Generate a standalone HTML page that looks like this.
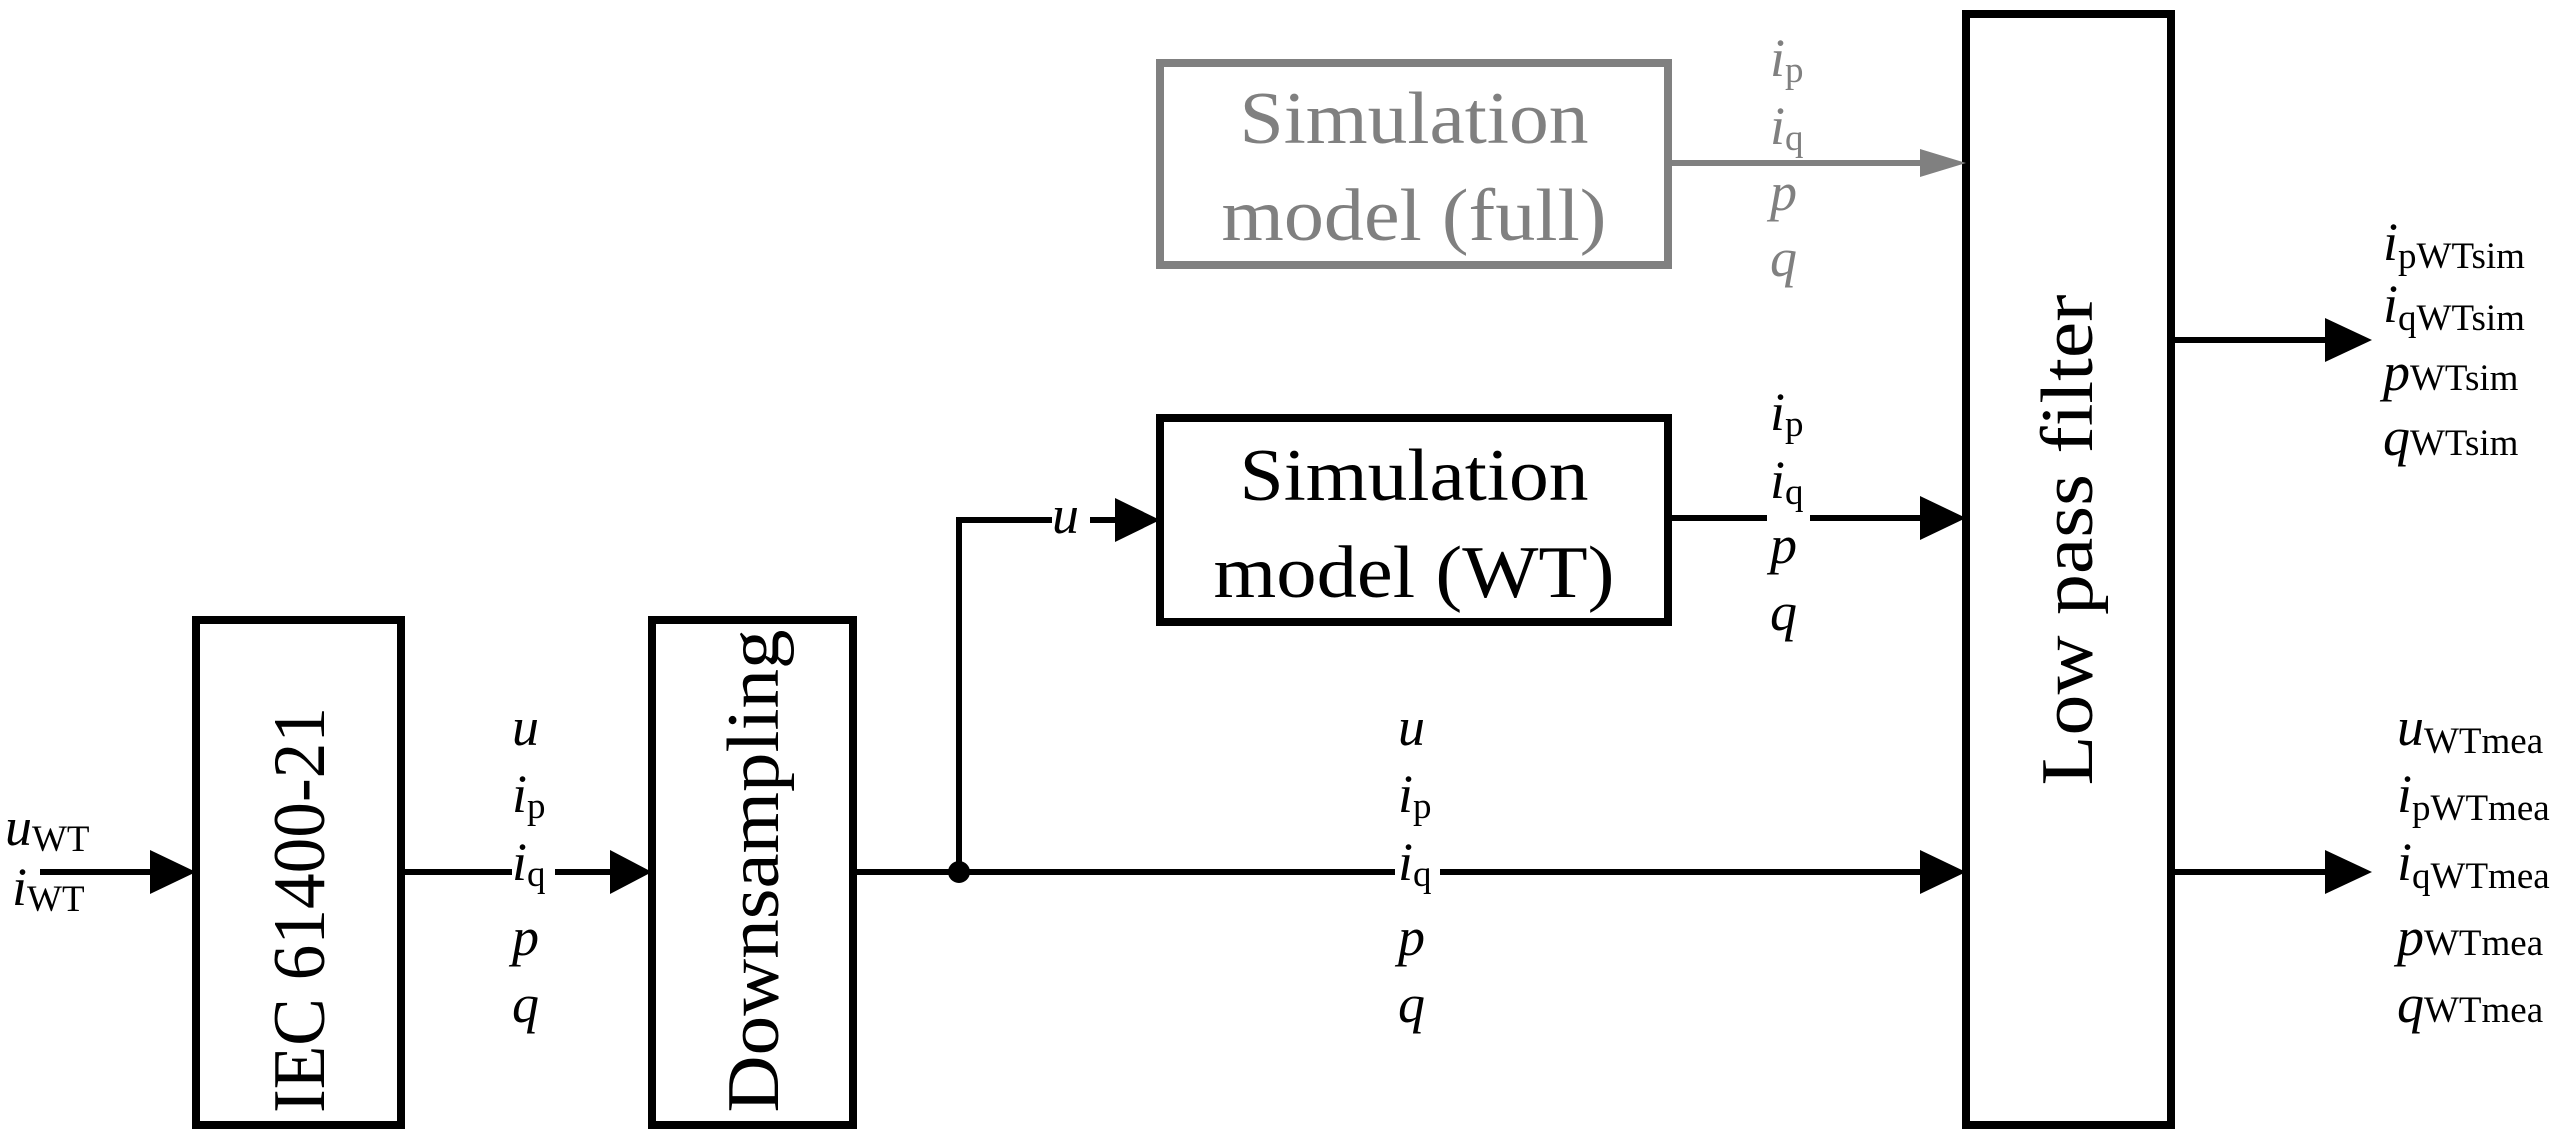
<!DOCTYPE html>
<html><head><meta charset="utf-8"><style>
html,body{margin:0;padding:0;background:#fff}
svg{display:block}
text{font-family:"Liberation Serif",serif}
.v{font-style:italic;font-size:54px}
.s{font-style:normal;font-size:37px}
.b{font-size:74px}
</style></head><body>
<svg width="2567" height="1143" viewBox="0 0 2567 1143" xmlns="http://www.w3.org/2000/svg">
<g fill="none" stroke-width="8">
<rect x="196" y="620" width="205" height="505" stroke="#000"/>
<rect x="652" y="620" width="201" height="505" stroke="#000"/>
<rect x="1160" y="63" width="508" height="202" stroke="#808080"/>
<rect x="1160" y="418" width="508" height="204" stroke="#000"/>
<rect x="1966" y="14" width="205" height="1111" stroke="#000"/>
</g>
<g stroke="#000" stroke-width="6" fill="none">
<line x1="40" y1="872" x2="150" y2="872"/>
<line x1="401" y1="872" x2="512" y2="872"/>
<line x1="555" y1="872" x2="610" y2="872"/>
<line x1="853" y1="872" x2="1395" y2="872"/>
<line x1="1440" y1="872" x2="1920" y2="872"/>
<polyline points="959,872 959,520 1052,520"/>
<line x1="1090" y1="520" x2="1115" y2="520"/>
<line x1="1668" y1="518" x2="1767" y2="518"/>
<line x1="1810" y1="518" x2="1920" y2="518"/>
<line x1="2171" y1="340" x2="2325" y2="340"/>
<line x1="2171" y1="872" x2="2325" y2="872"/>
<line x1="1668" y1="163" x2="1920" y2="163" stroke="#808080"/>
</g>
<g fill="#000">
<path d="M150,850 L196,872 L150,894z"/>
<path d="M610,850 L652,872 L610,894z"/>
<path d="M1115,498 L1160,520 L1115,542z"/>
<path d="M1920,496 L1966,518 L1920,540z"/>
<path d="M1920,850 L1966,872 L1920,894z"/>
<path d="M2325,318 L2372,340 L2325,362z"/>
<path d="M2325,850 L2372,872 L2325,894z"/>
<path d="M1920,149 L1966,163 L1920,177z" fill="#808080"/>
<circle cx="959" cy="872" r="11"/>
</g>
<g text-anchor="middle" class="b">
<text x="1414" y="143" fill="#808080" textLength="349" lengthAdjust="spacingAndGlyphs">Simulation</text>
<text x="1414" y="240" fill="#808080" textLength="385" lengthAdjust="spacingAndGlyphs">model (full)</text>
<text x="1414" y="500" textLength="349" lengthAdjust="spacingAndGlyphs">Simulation</text>
<text x="1414" y="597" textLength="401" lengthAdjust="spacingAndGlyphs">model (WT)</text>
<text transform="translate(298,910) rotate(-90)" dy="26" textLength="406" lengthAdjust="spacingAndGlyphs">IEC 61400-21</text>
<text transform="translate(752,871) rotate(-90)" dy="26" textLength="483" lengthAdjust="spacingAndGlyphs">Downsampling</text>
<text transform="translate(2066,540) rotate(-90)" dy="26" textLength="491" lengthAdjust="spacingAndGlyphs">Low pass filter</text>
</g>
<g>
<text x="5" y="845" class="v">u<tspan class="s" dy="6">WT</tspan></text>
<text x="12" y="905" class="v">i<tspan class="s" dy="6">WT</tspan></text>

<text x="512" y="745" class="v">u</text>
<text x="512" y="812" class="v">i<tspan class="s" dy="6">p</tspan></text>
<text x="512" y="880" class="v">i<tspan class="s" dy="6">q</tspan></text>
<text x="512" y="955" class="v">p</text>
<text x="512" y="1022" class="v">q</text>

<text x="1398" y="745" class="v">u</text>
<text x="1398" y="812" class="v">i<tspan class="s" dy="6">p</tspan></text>
<text x="1398" y="880" class="v">i<tspan class="s" dy="6">q</tspan></text>
<text x="1398" y="955" class="v">p</text>
<text x="1398" y="1022" class="v">q</text>

<text x="1052" y="533" class="v">u</text>

<text x="1770" y="430" class="v">i<tspan class="s" dy="6">p</tspan></text>
<text x="1770" y="498" class="v">i<tspan class="s" dy="6">q</tspan></text>
<text x="1770" y="563" class="v">p</text>
<text x="1770" y="630" class="v">q</text>

<g fill="#808080">
<text x="1770" y="76" class="v">i<tspan class="s" dy="6">p</tspan></text>
<text x="1770" y="144" class="v">i<tspan class="s" dy="6">q</tspan></text>
<text x="1770" y="210" class="v">p</text>
<text x="1770" y="276" class="v">q</text>
</g>

<text x="2383" y="260" class="v">i<tspan class="s" dy="8">pWTsim</tspan></text>
<text x="2383" y="322" class="v">i<tspan class="s" dy="8">qWTsim</tspan></text>
<text x="2383" y="390" class="v">p<tspan class="s" dy="0">WTsim</tspan></text>
<text x="2383" y="455" class="v">q<tspan class="s" dy="0">WTsim</tspan></text>

<text x="2397" y="745" class="v">u<tspan class="s" dy="8">WTmea</tspan></text>
<text x="2397" y="812" class="v">i<tspan class="s" dy="8">pWTmea</tspan></text>
<text x="2397" y="880" class="v">i<tspan class="s" dy="8">qWTmea</tspan></text>
<text x="2397" y="955" class="v">p<tspan class="s" dy="0">WTmea</tspan></text>
<text x="2397" y="1022" class="v">q<tspan class="s" dy="0">WTmea</tspan></text>
</g>
</svg>
</body></html>
